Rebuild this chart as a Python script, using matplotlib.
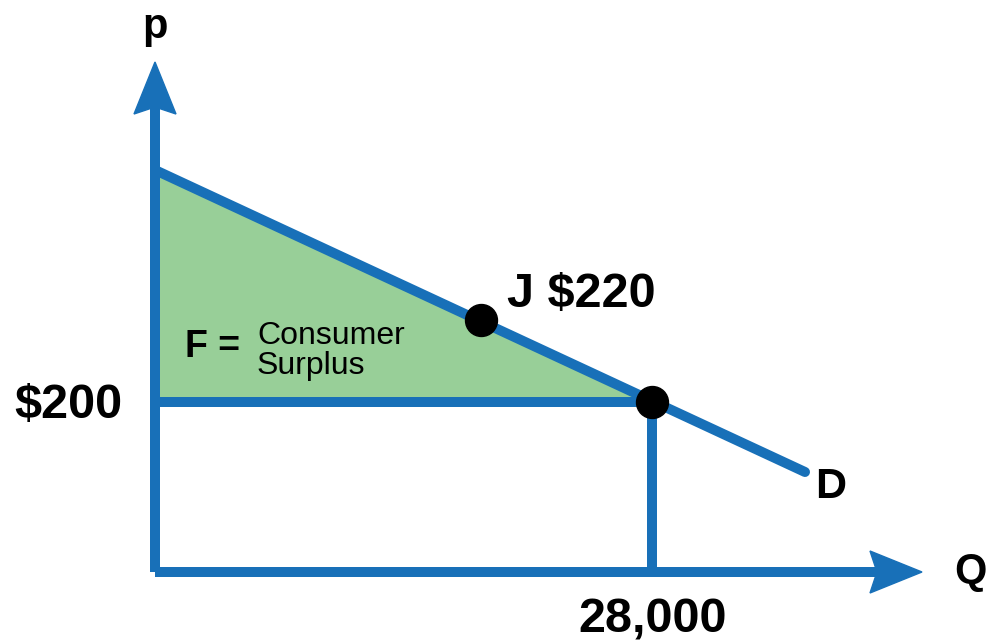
import matplotlib.pyplot as plt
from matplotlib.patches import Polygon

plt.rcParams['font.family'] = ['Liberation Sans', 'DejaVu Sans']

# data in drawing units (origin of the diagram at 0, 0)
demand_q = [0, 650]
demand_p = [402, 100]
eq_q, eq_p = 497, 170
j_q, j_p = 326, 252
q_axis_end = 767
p_axis_end = 510

price_label = "$200"
qty_label = "28,000"
j_label = "J $220"

blue = '#1870b8'
green = '#98cf98'
lw = 7.2

fig = plt.figure(figsize=(9.92, 6.43), dpi=100)
ax = fig.add_axes([0, 0, 1, 1])
ax.set_xlim(-155, 837)
ax.set_ylim(-71, 572)
ax.axis('off')

# consumer surplus triangle
surplus = Polygon([(0, demand_p[0]), (0, eq_p), (eq_q, eq_p)], closed=True,
                  facecolor=green, edgecolor='none', zorder=1)
ax.add_patch(surplus)

# axes with arrowheads
ax.plot([0, 0], [0, p_axis_end - 40], color=blue, lw=lw, solid_capstyle='butt', zorder=2)
ax.plot([0, q_axis_end - 40], [0, 0], color=blue, lw=lw, solid_capstyle='butt', zorder=2)
ax.add_patch(Polygon([(-21, p_axis_end - 52), (0, p_axis_end), (21, p_axis_end - 52), (0, p_axis_end - 45)],
                     closed=True, color=blue, zorder=2))
ax.add_patch(Polygon([(q_axis_end - 52, -21), (q_axis_end, 0), (q_axis_end - 52, 21), (q_axis_end - 45, 0)],
                     closed=True, color=blue, zorder=2))

# price and quantity lines
ax.plot([0, eq_q], [eq_p, eq_p], color=blue, lw=lw, solid_capstyle='butt', zorder=2)
ax.plot([eq_q, eq_q], [0, eq_p], color=blue, lw=lw, solid_capstyle='butt', zorder=2)

# demand curve
ax.plot(demand_q, demand_p, color=blue, lw=lw, solid_capstyle='round', zorder=3)

# points
ax.plot([j_q, eq_q], [j_p, eq_p], 'o', color='black', markersize=23, zorder=4)

# labels
ax.text(0, 545, 'p', fontsize=30, fontweight='bold', ha='center', va='center')
ax.text(815, 0, 'Q', fontsize=30, fontweight='bold', ha='center', va='center')
ax.text(-33, 154, price_label, fontsize=35, fontweight='bold', ha='right', va='baseline')
ax.text(eq_q + 1, -61, qty_label, fontsize=35, fontweight='bold', ha='center', va='baseline')
ax.text(j_q + 26, 265, j_label, fontsize=35, fontweight='bold', ha='left', va='baseline')
ax.text(demand_q[1] + 10, 74, 'D', fontsize=31, fontweight='bold', ha='left', va='baseline')
ax.text(30, 215, 'F =', fontsize=27, fontweight='bold', ha='left', va='baseline')
ax.text(102, 221, 'Consumer\nSurplus', fontsize=23, ha='left', va='center',
        linespacing=1.0)

fig.savefig('out.png', dpi=100)
